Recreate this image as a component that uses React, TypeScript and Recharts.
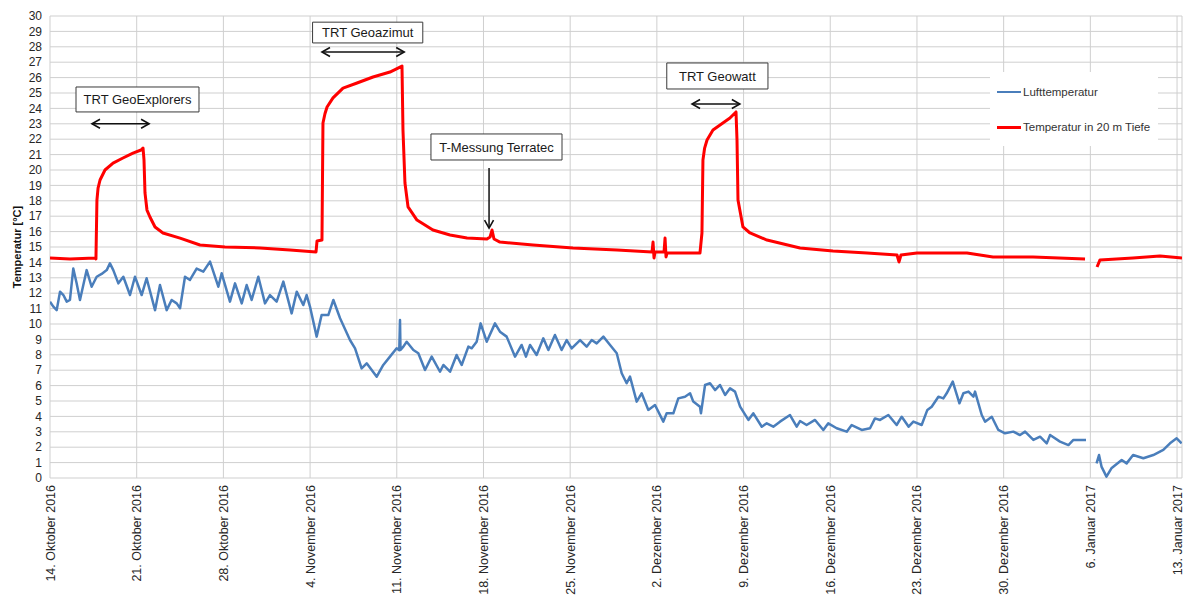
import React from 'react';
import { LineChart, Line, XAxis, YAxis, CartesianGrid, ReferenceArea, ReferenceLine, Legend } from 'recharts';

// x = days since 14 Oct 2016
const xTickDays = [0, 7, 14, 21, 28, 35, 42, 49, 56, 63, 70, 77, 84, 91];
const xTickLabels = [
  '14. Oktober 2016', '21. Oktober 2016', '28. Oktober 2016', '4. November 2016',
  '11. November 2016', '18. November 2016', '25. November 2016', '2. Dezember 2016',
  '9. Dezember 2016', '16. Dezember 2016', '23. Dezember 2016', '30. Dezember 2016',
  '6. Januar 2017', '13. Januar 2017',
];
const yTicks = [0, 1, 2, 3, 4, 5, 6, 7, 8, 9, 10, 11, 12, 13, 14, 15, 16, 17, 18, 19, 20, 21, 22, 23, 24, 25, 26, 27, 28, 29, 30];

const airDays = [
  0, 0.27, 0.54, 0.81, 1.08, 1.35, 1.61, 1.88, 2.15, 2.42, 2.96, 3.36, 3.77, 4.17, 4.58, 4.84, 5.11, 5.52, 5.92, 6.46,
  6.86, 7.4, 7.8, 8.48, 8.88, 9.42, 9.82, 10.23, 10.5, 10.9, 11.3, 11.84, 12.38, 12.92, 13.59, 13.86, 14.53, 14.94, 15.48, 15.88,
  16.28, 16.82, 17.36, 17.76, 18.3, 18.84, 19.51, 19.92, 20.45, 20.72, 20.99, 21.53, 21.93, 22.47, 22.88, 23.42, 24.22, 24.63, 25.16, 25.57,
  26.38, 26.91, 27.45, 27.99, 28.2, 28.26, 28.3, 28.53, 28.8, 29.34, 29.74, 30.28, 30.82, 31.49, 31.76, 32.3, 32.83, 33.24, 33.78, 34.05,
  34.45, 34.77, 35.26, 35.93, 36.33, 36.87, 37.55, 38.08, 38.43, 38.76, 39.29, 39.83, 40.24, 40.77, 41.31, 41.72, 42.12, 42.8, 43.33, 43.74,
  44.14, 44.68, 45.22, 45.76, 46.16, 46.56, 46.83, 47.37, 47.77, 48.31, 48.85, 49.52, 49.79, 50.33, 50.73, 51.27, 51.68, 51.94, 52.48, 52.56,
  52.89, 53.29, 53.7, 54.1, 54.51, 54.91, 55.31, 55.72, 56.39, 56.79, 57.47, 57.87, 58.4, 58.94, 59.75, 60.29, 60.56, 61.09, 61.77, 62.44,
  62.84, 63.52, 64.33, 64.73, 65.54, 66.21, 66.61, 67.02, 67.69, 68.36, 68.77, 69.33, 69.71, 70.38, 70.84, 71.19, 71.73, 72.13, 72.4, 72.89,
  73.43, 73.75, 74.16, 74.56, 74.69, 75.23, 75.5, 76.04, 76.57, 77.11, 77.78, 78.32, 78.73, 79.4, 79.94, 80.48, 80.75, 81.55, 82.23, 82.63,
  83.65, 84.0, 84.5, 84.7, 84.9, 85.3, 85.7, 86.53, 86.93, 87.45, 88.28, 89.08, 89.89, 90.43, 90.97, 91.37,
];
const airTemps = [
  11.45, 11.13, 10.9, 12.1, 11.88, 11.45, 11.56, 13.6, 12.64, 11.56, 13.5, 12.42, 13.07, 13.25, 13.5, 13.94, 13.5, 12.64, 13.07, 11.88,
  13.07, 11.88, 12.97, 10.9, 12.53, 10.9, 11.56, 11.34, 11.02, 13.07, 12.86, 13.6, 13.4, 14.05, 12.42, 13.29, 11.45, 12.64, 11.34, 12.53,
  11.56, 13.07, 11.34, 11.88, 11.45, 12.75, 10.69, 12.1, 11.23, 11.88, 11.13, 9.18, 10.58, 10.58, 11.56, 10.37, 8.96, 8.42, 7.12, 7.45,
  6.58, 7.34, 7.88, 8.42, 8.3, 10.26, 8.31, 8.53, 8.85, 8.31, 8.1, 7.01, 7.88, 6.9, 7.34, 6.9, 7.99, 7.34, 8.53, 8.42,
  8.85, 10.04, 8.85, 10.04, 9.5, 9.18, 7.88, 8.64, 7.88, 8.64, 7.99, 9.07, 8.31, 9.29, 8.31, 8.96, 8.42, 8.96, 8.53, 8.96,
  8.74, 9.18, 8.64, 8.1, 6.8, 6.15, 6.58, 4.96, 5.5, 4.42, 4.74, 3.66, 4.2, 4.2, 5.17, 5.28, 5.5, 4.96, 4.63, 4.2,
  6.04, 6.15, 5.71, 6.04, 5.39, 5.82, 5.61, 4.63, 3.77, 4.2, 3.33, 3.55, 3.33, 3.66, 4.09, 3.33, 3.7, 3.44, 3.77, 3.12,
  3.55, 3.23, 3.01, 3.44, 3.12, 3.23, 3.87, 3.77, 4.09, 3.44, 3.98, 3.33, 3.66, 3.44, 4.42, 4.63, 5.28, 5.17, 5.5, 6.26,
  4.85, 5.5, 5.61, 5.28, 5.61, 4.09, 3.66, 3.98, 3.12, 2.9, 3.01, 2.79, 3.01, 2.47, 2.68, 2.25, 2.79, 2.36, 2.14, 2.47,
  2.47, null, 0.95, 1.49, 0.74, 0.09, 0.63, 1.17, 0.95, 1.49, 1.28, 1.49, 1.82, 2.25, 2.58, 2.25,
];

const depthDays = [
  0, 1.61, 3.63, 3.71, 3.79, 3.88, 4.04, 4.44, 5.09, 5.89, 6.7, 7.35, 7.51, 7.59, 7.67, 7.83, 8.07, 8.48, 9.12, 10.5,
  12.11, 14.13, 16.96, 19.38, 21.48, 21.56, 21.96, 22.04, 22.2, 22.37, 22.85, 23.66, 24.79, 26.08, 27.45, 28.1, 28.42, 28.5, 28.66, 28.91, 29.63,
  30.92, 32.3, 33.67, 35.28, 35.53, 35.69, 35.85, 36.33, 39.0, 42.23, 45.78, 48.61, 48.69, 48.77, 48.85, 49.58, 49.66, 49.74, 49.82, 52.48,
  52.64, 52.72, 52.85, 53.05, 53.53, 54.1, 54.9, 55.39, 55.47, 55.55, 55.95, 56.52, 57.89, 60.56, 63.22, 65.97, 68.39, 68.55, 68.71, 70.0, 74.04,
  76.14, 79.37, 83.57, 84.0, 84.54, 84.78, 87.44, 89.62, 91.4,
];
const depthTemps = [
  14.29, 14.22, 14.29, 14.22, 18.05, 18.83, 19.35, 20.0, 20.45, 20.78, 21.1, 21.3, 21.43, 20.65, 18.51, 17.4, 16.95, 16.3, 15.91, 15.58,
  15.13, 15.0, 14.94, 14.81, 14.68, 15.39, 15.45, 23.05, 23.65, 24.09, 24.68, 25.32, 25.65, 26.04, 26.36, 26.62, 26.75, 22.6, 19.16, 17.6, 16.75,
  16.1, 15.78, 15.58, 15.52, 15.65, 16.1, 15.52, 15.32, 15.13, 14.94, 14.81, 14.68, 15.32, 14.29, 14.68, 14.68, 15.58, 14.35, 14.61, 14.61,
  15.91, 20.65, 21.4, 21.95, 22.6, 22.92, 23.38, 23.77, 21.95, 18.05, 16.3, 15.91, 15.45, 14.94, 14.74, 14.61, 14.48, 14.03, 14.48, 14.61, 14.61,
  14.35, 14.35, 14.22, null, 13.7, 14.16, 14.29, 14.42, 14.29,
];

const airData = airDays.map((d, i) => ({ d, v: airTemps[i] }));
const depthData = depthDays.map((d, i) => ({ d, v: depthTemps[i] }));

// annotations (data coordinates)
const boxes = [
  { text: 'TRT GeoExplorers', x1: 2.1, x2: 12.03, y1: 23.77, y2: 25.39 },
  { text: 'TRT Geoazimut', x1: 21.2, x2: 30.1, y1: 28.25, y2: 29.6 },
  { text: 'T-Messung Terratec', x1: 30.76, x2: 41.34, y1: 20.65, y2: 22.34 },
  { text: 'TRT Geowatt', x1: 49.8, x2: 57.97, y1: 25.26, y2: 26.95 },
];
const arrows = [
  { from: { x: 3.39, y: 23.0 }, to: { x: 8.0, y: 23.0 }, double: true },
  { from: { x: 21.96, y: 27.66 }, to: { x: 28.6, y: 27.66 }, double: true },
  { from: { x: 51.84, y: 24.29 }, to: { x: 55.7, y: 24.29 }, double: true },
  { from: { x: 35.45, y: 20.13 }, to: { x: 35.45, y: 16.23 }, double: false },
];

const FONT = '"Liberation Sans", Arial, sans-serif';

const arrowShape = (double: boolean) => (p: any) => {
  const { x1, y1, x2, y2 } = p;
  const dx = x2 - x1;
  const dy = y2 - y1;
  const len = Math.hypot(dx, dy) || 1;
  const ux = dx / len;
  const uy = dy / len;
  const h = 8;
  const w = 4.5;
  const head = (tx: number, ty: number, sx: number, sy: number) =>
    `M${tx - sx * h - sy * w},${ty - sy * h + sx * w} L${tx},${ty} L${tx - sx * h + sy * w},${ty - sy * h - sx * w}`;
  const d = head(x2, y2, ux, uy) + (double ? ' ' + head(x1, y1, -ux, -uy) : '');
  return (
    <g>
      <line x1={x1} y1={y1} x2={x2} y2={y2} stroke="#111" strokeWidth={1.5} />
      <path d={d} fill="none" stroke="#111" strokeWidth={1.6} />
    </g>
  );
};

const XTick = (props: any) => {
  const { x, y, payload } = props;
  const idx = xTickDays.indexOf(payload.value);
  const label = idx >= 0 ? xTickLabels[idx] : '';
  return (
    <text
      x={x}
      y={y - 1}
      transform={`rotate(-90 ${x} ${y - 1})`}
      textAnchor="end"
      dy="0.36em"
      fontSize={12.5}
      fontFamily={FONT}
      fill="#262626"
    >
      {label}
    </text>
  );
};

const LegendContent = (props: any) => {
  const payload = props.payload || [];
  return (
    <div style={{ position: 'relative', width: 168, height: 74, background: '#fff', fontFamily: FONT, fontSize: 11.5, color: '#333' }}>
      {payload.map((entry: any, i: number) => (
        <div key={i} style={{ position: 'absolute', left: 7, top: 12 + i * 35, height: 16, display: 'flex', alignItems: 'center', whiteSpace: 'nowrap' }}>
          <span style={{ display: 'inline-block', width: 24, height: i === 0 ? 2 : 3, background: entry.color, marginRight: 2 }} />
          <span>{entry.value}</span>
        </div>
      ))}
    </div>
  );
};

export default function App() {
  return (
    <div style={{ position: 'absolute', left: 0, top: 0, background: '#fff' }}>
      <LineChart width={1185} height={595} margin={{ top: 16, right: 3, left: 0, bottom: 0 }}>
        <CartesianGrid stroke="#cfcfcf" strokeWidth={1} />
        <XAxis
          type="number"
          dataKey="d"
          domain={[0, 91.4]}
          ticks={xTickDays}
          interval={0}
          height={117}
          tick={<XTick />}
          axisLine={false}
          tickLine={false}
          allowDataOverflow
        />
        <YAxis
          type="number"
          domain={[0, 30]}
          ticks={yTicks}
          interval={0}
          width={50}
          axisLine={false}
          tickLine={false}
          tick={{ fontSize: 12, fontFamily: FONT, fill: '#262626' }}
          label={{
            value: 'Temperatur [°C]',
            angle: -90,
            position: 'insideLeft',
            offset: 17,
            style: { textAnchor: 'middle', fontSize: 11, fontWeight: 'bold', fontFamily: FONT, fill: '#111' },
          }}
        />
        <Legend
          layout="horizontal"
          verticalAlign="middle"
          align="center"
          wrapperStyle={{ left: 990, top: 72, width: 168, height: 74 }}
          content={<LegendContent />}
        />
        <Line
          data={airData}
          dataKey="v"
          name="Lufttemperatur"
          stroke="#4A7EBB"
          strokeWidth={2.5}
          dot={false}
          activeDot={false}
          isAnimationActive={false}
          connectNulls={false}
          strokeLinejoin="round"
        />
        <Line
          data={depthData}
          dataKey="v"
          name="Temperatur in 20 m Tiefe"
          stroke="#FF0000"
          strokeWidth={3}
          dot={false}
          activeDot={false}
          isAnimationActive={false}
          connectNulls={false}
          strokeLinejoin="round"
        />
        {boxes.map((b, i) => (
          <ReferenceArea
            key={'b' + i}
            x1={b.x1}
            x2={b.x2}
            y1={b.y1}
            y2={b.y2}
            fill="#fff"
            fillOpacity={1}
            stroke="#3a3a3a"
            strokeWidth={1}
            label={{ value: b.text, position: 'center', fontSize: 13, fontFamily: FONT, fill: '#1a1a1a' }}
          />
        ))}
        {arrows.map((a, i) => (
          <ReferenceLine key={'a' + i} segment={[a.from, a.to]} shape={arrowShape(a.double)} />
        ))}
      </LineChart>
    </div>
  );
}
